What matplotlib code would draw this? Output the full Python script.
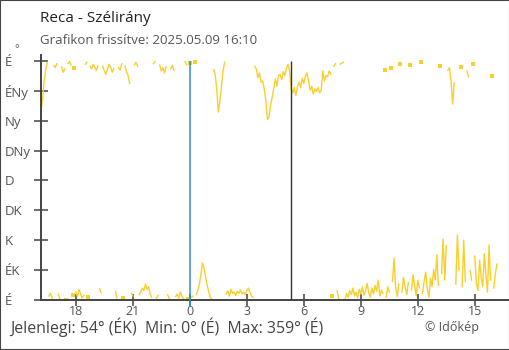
import numpy as np
import pandas as pd
import matplotlib
matplotlib.use("Agg")
import matplotlib.pyplot as plt
from matplotlib.patches import Rectangle

plt.rcParams['font.family'] = ['Open Sans', 'DejaVu Sans']

# wind direction in degrees, one reading every 5 minutes from 16:10
direction = [
    285, 302, 330, 347, 358, 6, 10, 3, 353, 350, 356, 9,
    1, 351, 343, 348, 0, 356, 359, 354, 8, 349, 12, 5,
    16, 9, 3, 7, 355, 358, 4, 352, 348, 355, 350, 346,
    353, 17, 11, 352, 345, 340, 348, 355, 351, 343, 349, 13,
    3, 350, 346, 356, 3, 352, 344, 338, 326, 10, 6, 354,
    358, 352, 8, 12, 18, 14, 24, 16, 20, 9, 4, 356,
    359, 3, 7, 354, 345, 350, 342, 351, 8, 2, 348, 353,
    346, 5, 9, 3, 12, 6, 1, 359, 354, 2, 357, 4,
    6, 359, 8, 14, 24, 38, 56, 48, 34, 22, 12, 4,
    0, 347, 340, 318, 283, 300, 322, 345, 358, 9, 14, 6,
    16, 10, 12, 7, 13, 10, 15, 9, 12, 8, 14, 18,
    11, 6, 4, 352, 348, 335, 342, 328, 330, 318, 300, 272,
    275, 293, 305, 318, 333, 322, 338, 340, 332, 344, 338, 348,
    355, 345, 318, 312, 320, 308, 322, 328, 320, 334, 326, 337,
    342, 330, 316, 322, 310, 318, 314, 320, 312, 316, 345, 330,
    338, 336, 345, 340, 6, 352, 356, 14, 2, 355, 357, 358,
    0, 10, 4, 14, 8, 18, 6, 12, 3, 16, 9, 20,
    7, 14, 25, 11, 4, 18, 9, 22, 13, 30, 6, 15,
    10, 346, 4, 20, 12, 349, 28, 63, 18, 5, 24, 355,
    12, 34, 20, 8, 26, 354, 15, 38, 22, 6, 30, 18,
    358, 10, 28, 42, 16, 4, 33, 20, 46, 30, 68, 22,
    352, 40, 92, 30, 82, 346, 350, 330, 295, 327, 24, 98,
    45, 351, 20, 90, 28, 345, 336, 44, 30, 355, 66, 25,
    14, 60, 35, 20, 70, 38, 12, 83, 30, 337, 18, 40, 54,
]
times = pd.date_range("2025-05-08 16:10", periods=len(direction), freq="5min")

compass_ticks = [0, 45, 90, 135, 180, 225, 270, 315, 360]
compass_labels = ["É", "ÉK", "K", "DK", "D", "DNy", "Ny", "ÉNy", "É"]
hour_ticks = pd.date_range("2025-05-08 18:00", "2025-05-09 15:00", freq="3h")

midnight = pd.Timestamp("2025-05-09 00:00")
sunrise = pd.Timestamp("2025-05-09 05:19")
x_start = pd.Timestamp("2025-05-08 16:10")
x_end = pd.Timestamp("2025-05-09 16:48")

YELLOW = "#f8cf2c"
AXIS = "#444444"

fig = plt.figure(figsize=(5.1, 3.5), dpi=100)
ax = fig.add_axes([41 / 510, 50 / 350, 468 / 510, 245 / 350])

# break the line where the direction wraps around north
vals = np.array(direction, dtype=float)
breaks = np.where(np.abs(np.diff(vals)) > 180)[0] + 1
for idx in np.split(np.arange(len(vals)), breaks):
    if len(idx) == 1:
        ax.plot(times[idx], vals[idx], "s", color=YELLOW, ms=3.2, mew=0)
    else:
        ax.plot(times[idx], vals[idx], "-", color=YELLOW, lw=1.0)

ax.vlines(midnight, -10, 360, color="#2b8fd4", lw=1.1, clip_on=False, zorder=3)
ax.vlines(sunrise, 0, 360, color="#333333", lw=1.0, zorder=3)

ax.set_xlim(x_start, x_end)
ax.set_ylim(0, 369)

ax.set_yticks(compass_ticks)
ax.set_yticklabels(compass_labels)
ax.set_xticks(hour_ticks)
ax.set_xticklabels([str(t.hour) for t in hour_ticks])

for s in ["top", "right"]:
    ax.spines[s].set_visible(False)
for s in ["left", "bottom"]:
    ax.spines[s].set_color(AXIS)
    ax.spines[s].set_linewidth(1.4)

ax.tick_params(axis="y", direction="inout", length=10, width=1.1, color=AXIS,
               labelsize=9.5, labelcolor="#555555", pad=21)
for lab in ax.get_yticklabels():
    lab.set_horizontalalignment("left")
ax.tick_params(axis="x", direction="inout", length=8.6, width=1.1, color=AXIS,
               labelsize=9, labelcolor="#555555", pad=-0.5)

fig.text(14 / 510, 1 - 50 / 350, "°", fontsize=8, color="#555555", va="center")

fig.text(40 / 510, 1 - 18 / 350, "Reca - Szélirány", fontsize=11, color="#222222", va="center")
fig.text(40 / 510, 1 - 40 / 350, "Grafikon frissítve: 2025.05.09 16:10", fontsize=9.5,
         color="#555555", va="center")
fig.text(10 / 510, 1 - 327 / 350, "Jelenlegi: 54° (ÉK)  Min: 0° (É)  Max: 359° (É)",
         fontsize=11.4, color="#444444", va="center")
fig.text(425 / 510, 1 - 327 / 350, "© Időkép", fontsize=9, color="#555555", va="center")

fig.patches.append(Rectangle((0, 0), 1, 1, transform=fig.transFigure, fill=False,
                             edgecolor="#444444", lw=1.5))

fig.savefig("out.png", dpi=100)
